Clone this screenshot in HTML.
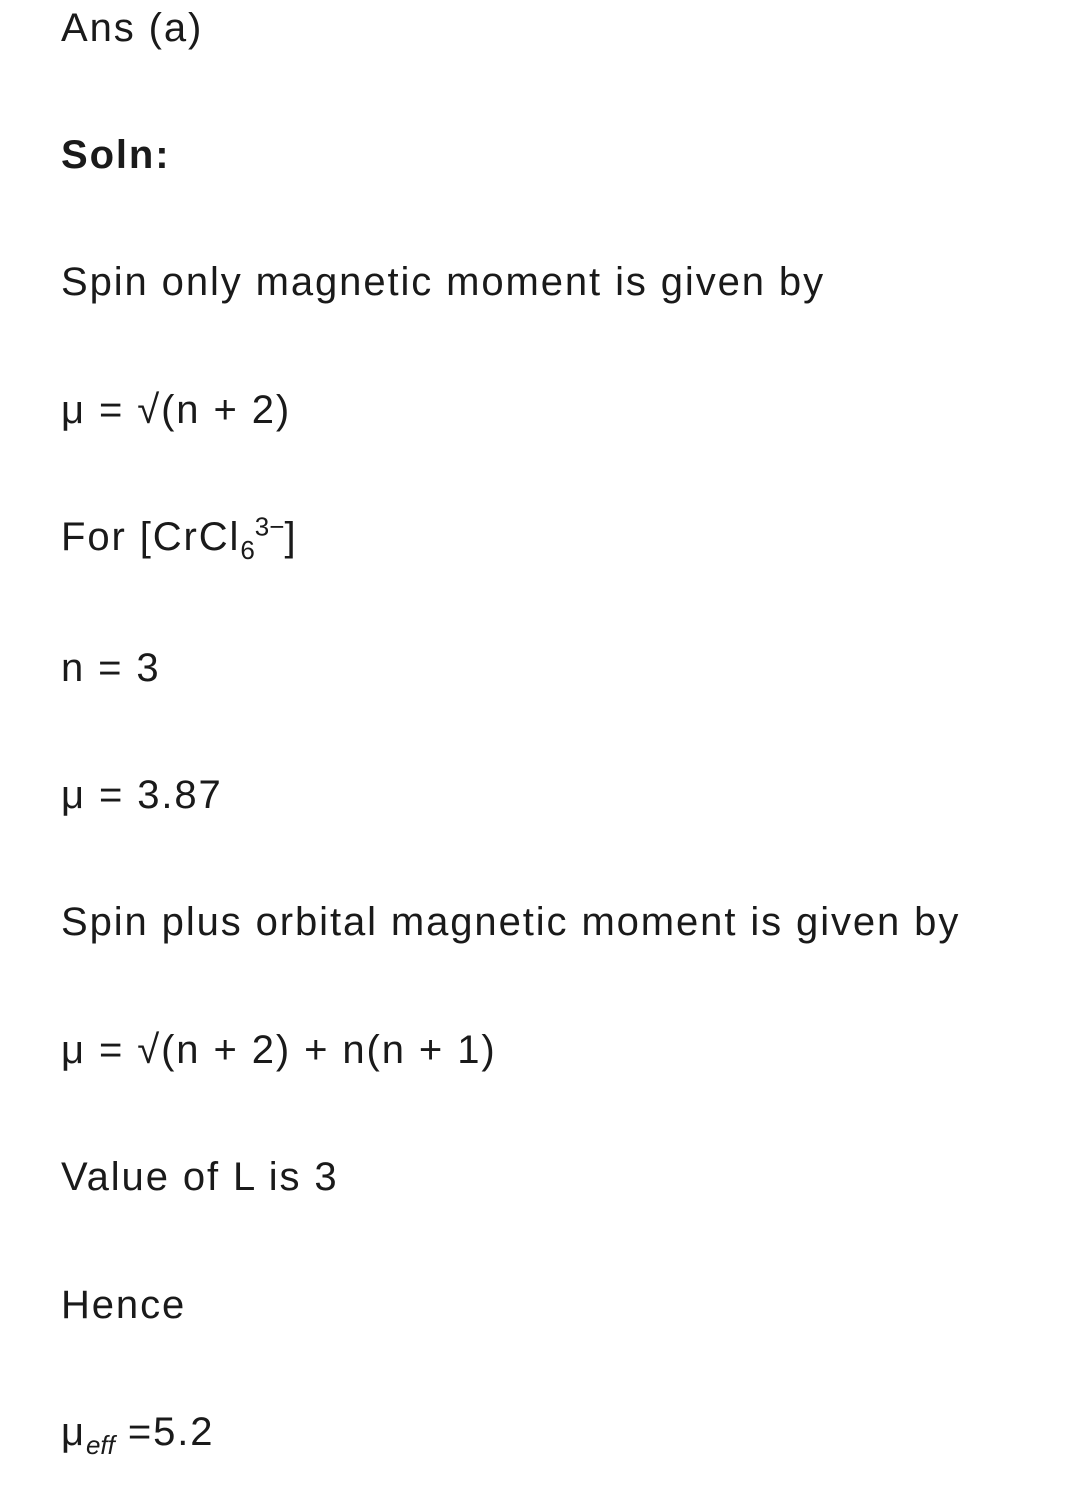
<!DOCTYPE html>
<html><head><meta charset="utf-8"><style>
html,body{margin:0;padding:0;background:#fff;}
body{width:1080px;height:1489px;position:relative;overflow:hidden;font-family:"Liberation Sans",sans-serif;font-size:40px;color:#1a1a1a;letter-spacing:1.9px;}
.l{position:absolute;left:61px;line-height:50px;white-space:nowrap;}
sub,sup{font-size:26px;line-height:0;letter-spacing:0;}
</style></head><body>
<div class="l" style="top:3px">Ans (a)</div>
<div class="l" style="top:130px;font-weight:bold">Soln:</div>
<div class="l" style="top:257px">Spin only magnetic moment is given by</div>
<div class="l" style="top:385px">μ = √(n + 2)</div>
<div class="l" style="top:512px">For [CrCl<sub>6</sub><sup>3−</sup>]</div>
<div class="l" style="top:643px">n = 3</div>
<div class="l" style="top:770px">μ = 3.87</div>
<div class="l" style="top:897px">Spin plus orbital magnetic moment is given by</div>
<div class="l" style="top:1025px">μ = √(n + 2) + n(n + 1)</div>
<div class="l" style="top:1152px">Value of L is 3</div>
<div class="l" style="top:1280px">Hence</div>
<div class="l" style="top:1407px">μ<sub><i>eff</i></sub> =5.2</div>
</body></html>
